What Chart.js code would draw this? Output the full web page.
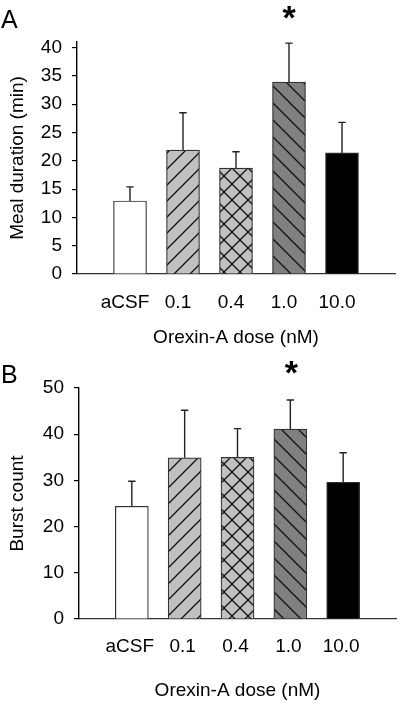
<!DOCTYPE html>
<html>
<head>
<meta charset="utf-8">
<script src="https://cdn.jsdelivr.net/npm/chart.js@4"></script>
<style>
html,body{margin:0;padding:0;background:#fff;}
.p{position:absolute;left:0;width:412px;height:352px;}
#wa{top:0;} #wb{top:352px;}
</style>
</head>
<body>
<div class="p" id="wa"><canvas id="ca"></canvas></div>
<div class="p" id="wb"><canvas id="cb"></canvas></div>
<script>
// ---- data ----
const doses = ['', 'aCSF', '0.1', '0.4', '1.0', '10.0', ''];
const mealDuration = [null, 12.9, 21.9, 18.7, 33.9, 21.4, null];
const mealDurationSem = [null, 2.5, 6.6, 2.9, 6.9, 5.4, null];
const burstCount = [null, 24.4, 34.9, 35.0, 41.1, 29.6, null];
const burstCountSem = [null, 5.4, 10.3, 6.2, 6.3, 6.4, null];
const yTicksA = [0, 5, 10, 15, 20, 25, 30, 35, 40];
const yTicksB = [0, 10, 20, 30, 40, 50];
const significant = [false, false, false, false, true, false, false];

const FONT = "'Liberation Sans', Arial, sans-serif";

function makePattern(bg, kind, s) {
  const c = document.createElement('canvas');
  c.width = s; c.height = s;
  const g = c.getContext('2d');
  g.fillStyle = bg; g.fillRect(0, 0, s, s);
  g.strokeStyle = '#111'; g.lineWidth = 1.3;
  const fwd = () => { g.beginPath(); g.moveTo(-2, s + 2); g.lineTo(s + 2, -2); g.moveTo(-2, 2); g.lineTo(2, -2); g.moveTo(s - 2, s + 2); g.lineTo(s + 2, s - 2); g.stroke(); };
  const back = () => { g.beginPath(); g.moveTo(-2, -2); g.lineTo(s + 2, s + 2); g.moveTo(s - 2, -2); g.lineTo(s + 2, 2); g.moveTo(-2, s - 2); g.lineTo(2, s + 2); g.stroke(); };
  if (kind === 'fwd') fwd();
  if (kind === 'back') back();
  if (kind === 'cross') { fwd(); back(); }
  return g.createPattern(c, 'repeat');
}

const fills = [
  '#ffffff',
  '#ffffff',
  makePattern('#c0c0c0', 'fwd', 16),
  makePattern('#c0c0c0', 'cross', 16),
  makePattern('#808080', 'back', 17),
  '#000000',
  '#ffffff'
];

const errorBars = {
  id: 'errorBars',
  afterDatasetsDraw(chart, args, opts) {
    const { ctx, scales: { x, y } } = chart;
    const vals = chart.data.datasets[0].data;
    ctx.save();
    ctx.strokeStyle = '#222';
    ctx.lineWidth = 1.4;
    vals.forEach((v, i) => {
      if (v == null) return;
      const px = x.getPixelForValue(i);
      const y0 = y.getPixelForValue(v);
      const y1 = y.getPixelForValue(v + opts.sem[i]);
      ctx.beginPath();
      ctx.moveTo(px, y0); ctx.lineTo(px, y1);
      ctx.moveTo(px - 3.7, y1); ctx.lineTo(px + 3.7, y1);
      ctx.stroke();
    });
    ctx.fillStyle = '#000';
    ctx.font = 'bold 34px ' + FONT;
    ctx.textAlign = 'center';
    ctx.textBaseline = 'middle';
    opts.sig.forEach((s, i) => {
      if (!s) return;
      ctx.fillText('*', x.getPixelForValue(i) + opts.starDx, opts.starY);
    });
    ctx.font = '25px ' + FONT;
    ctx.textAlign = 'left';
    ctx.fillText(opts.letter, 1, opts.letterY);
    ctx.restore();
  }
};

function build(id, data, sem, yTitle, max, ticks, cfg) {
  return new Chart(document.getElementById(id), {
    type: 'bar',
    data: {
      labels: doses,
      datasets: [{
        data: data,
        backgroundColor: fills,
        borderColor: '#333',
        borderWidth: 1.2,
        borderSkipped: 'bottom',
        barThickness: 33
      }]
    },
    options: {
      responsive: true,
      maintainAspectRatio: false,
      animation: false,
      events: [],
      layout: { padding: { top: cfg.top, right: cfg.right, left: 0, bottom: 0 } },
      plugins: {
        legend: { display: false },
        tooltip: { enabled: false },
        errorBars: { sem: sem, sig: significant, starY: cfg.starY, starDx: cfg.starDx, letter: cfg.letter, letterY: cfg.letterY }
      },
      scales: {
        x: {
          offset: false,
          grid: { display: false, drawTicks: false },
          border: { display: true, color: '#333', width: 1.3 },
          ticks: { color: '#000', font: { family: FONT, size: 19 }, padding: cfg.xPad, autoSkip: false, maxRotation: 0, labelOffset: cfg.labelOffset },
          title: { display: true, text: 'Orexin-A dose (nM)', color: '#000', font: { family: FONT, size: 19 }, padding: { top: 0, bottom: cfg.titlePad } },
          afterFit(s) { s.height = cfg.xHeight; }
        },
        y: {
          min: 0, max: max,
          afterBuildTicks(s) { s.ticks = ticks.map(v => ({ value: v })); },
          grid: { display: true, drawOnChartArea: false, drawTicks: true, tickLength: 5, color: '#000', lineWidth: 1.2 },
          border: { display: true, color: '#000', width: 1.4 },
          ticks: { color: '#000', font: { family: FONT, size: 19 }, padding: 10 },
          title: { display: true, text: yTitle, color: '#000', font: { family: FONT, size: 19 }, padding: { top: 6, bottom: 0 } },
          afterFit(s) { s.width = cfg.yWidth; }
        }
      }
    },
    plugins: [errorBars]
  });
}

build('ca', mealDuration, mealDurationSem, 'Meal duration (min)', 41, yTicksA,
  { top: 42, right: 5, xHeight: 78, xPad: 17, titlePad: 3, labelOffset: -5, yWidth: 77, starY: 20, starDx: 0, letter: 'A', letterY: 21 });
build('cb', burstCount, burstCountSem, 'Burst count', 50, yTicksB,
  { top: 36, right: 3, xHeight: 85, xPad: 16, titlePad: 2, labelOffset: -2, yWidth: 79, starY: 23, starDx: 1, letter: 'B', letterY: 24 });
</script>
</body>
</html>
